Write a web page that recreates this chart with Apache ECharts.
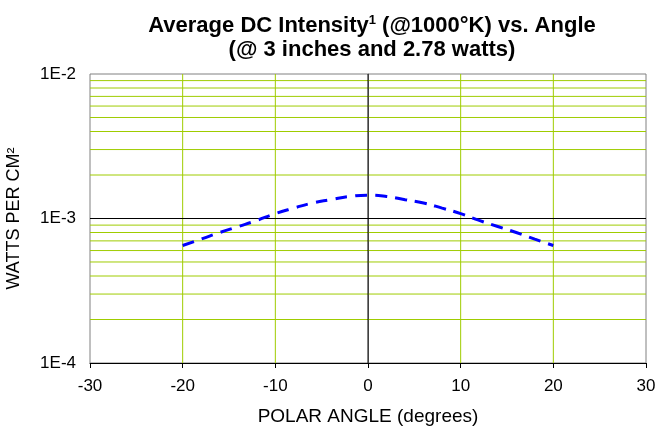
<!DOCTYPE HTML>
<html>
<head>
	<meta charset="utf-8"/>
	<title>Average DC Intensity vs. Angle</title>
	<script src="https://cdn.jsdelivr.net/npm/echarts@6/dist/echarts.min.js"></script>
	<style>
		* { padding: 0px; margin: 0px; }
		body { background: #fff; }
		#chart { width: 657px; height: 430px; }
	</style>
</head>
<body>
	<div id="chart"></div>
	<script>
		// polar angle (degrees) and intensity (W/cm^2)
		var angles = [-20, -18, -16, -14, -12, -10, -8, -6, -4, -2, 0, 2, 4, 6, 8, 10, 12, 14, 16, 18, 20];
		var intensity = [6.5e-4, 7.2e-4, 8.0e-4, 8.8e-4, 9.7e-4, 1.08e-3, 1.18e-3, 1.28e-3, 1.35e-3, 1.42e-3, 1.45e-3,
			1.42e-3, 1.35e-3, 1.28e-3, 1.18e-3, 1.08e-3, 9.7e-4, 8.8e-4, 8.0e-4, 7.2e-4, 6.5e-4];
		// gridlines
		var yMinorGrid = [2e-4, 3e-4, 4e-4, 5e-4, 6e-4, 7e-4, 8e-4, 9e-4, 2e-3, 3e-3, 4e-3, 5e-3, 6e-3, 7e-3, 8e-3, 9e-3];
		var yMajorGrid = [1e-3];
		var xMinorGrid = [-20, -10, 10, 20];
		var xMajorGrid = [0];

		var green = '#9fcc00';
		var font = 'Liberation Sans, Arial, sans-serif';
		var xMin = -30, xMax = 30, yMin = 1e-4, yMax = 1e-2;

		function gridSeries(points, color){
			return {
				type: 'line',
				data: points,
				silent: true,
				symbol: 'none',
				showSymbol: false,
				animation: false,
				lineStyle: { color: color, width: 1 },
				z: 1
			};
		}

		var series = [];
		yMinorGrid.forEach(function(v){ series.push(gridSeries([[xMin, v], [xMax, v]], green)); });
		xMinorGrid.forEach(function(v){ series.push(gridSeries([[v, yMin], [v, yMax]], green)); });
		yMajorGrid.forEach(function(v){ series.push(gridSeries([[xMin, v], [xMax, v]], '#000')); });
		xMajorGrid.forEach(function(v){ series.push(gridSeries([[v, yMin], [v, yMax]], '#000')); });
		series.push({
			type: 'line',
			data: angles.map(function(a, i){ return [a, intensity[i]]; }),
			smooth: true,
			showSymbol: false,
			symbol: 'none',
			lineStyle: { color: '#0000ff', width: 3, type: [12, 8] },
			z: 5
		});

		var myChart = echarts.init(document.getElementById('chart'), null, { renderer: 'canvas' });
		var option = {
			animation: false,
			title: {
				text: 'Average DC Intensity{sup|1} (@1000°K) vs. Angle\n(@ 3 inches and 2.78 watts)',
				left: 367,
				top: 9,
				textAlign: 'center',
				textStyle: {
					fontFamily: font,
					fontWeight: 'bold',
					fontSize: 22,
					lineHeight: 24,
					color: '#000',
					rich: {
						sup: { fontFamily: font, fontWeight: 'bold', fontSize: 13, verticalAlign: 'top', lineHeight: 16, color: '#000' }
					}
				}
			},
			grid: {
				left: 90, top: 74, width: 556, height: 289,
				outerBoundsMode: 'none',
				show: true, borderColor: '#808080', borderWidth: 1, containLabel: false
			},
			xAxis: {
				type: 'value',
				min: xMin, max: xMax, interval: 10,
				name: 'POLAR ANGLE (degrees)',
				nameLocation: 'middle',
				nameGap: 44,
				nameTextStyle: { fontFamily: font, fontSize: 19, color: '#000' },
				axisLine: { show: true, onZero: false, lineStyle: { color: '#000', width: 1 } },
				axisTick: { show: true, length: 5, inside: false, lineStyle: { color: '#000' } },
				axisLabel: { fontFamily: font, fontSize: 17, color: '#000', margin: 15 },
				splitLine: { show: false }
			},
			yAxis: {
				type: 'log',
				logBase: 10,
				min: yMin, max: yMax,
				name: 'WATTS PER CM²',
				nameLocation: 'middle',
				nameGap: 67,
				nameTextStyle: { fontFamily: font, fontSize: 18, color: '#000' },
				axisLine: { show: true, lineStyle: { color: '#808080' } },
				axisTick: { show: false },
				axisLabel: {
					fontFamily: font, fontSize: 17, color: '#000', margin: 14,
					formatter: function(v){ return '1E' + Math.round(Math.log10(v)); }
				},
				splitLine: { show: false }
			},
			series: series
		};
		myChart.setOption(option, true);
	</script>
</body>
</html>
